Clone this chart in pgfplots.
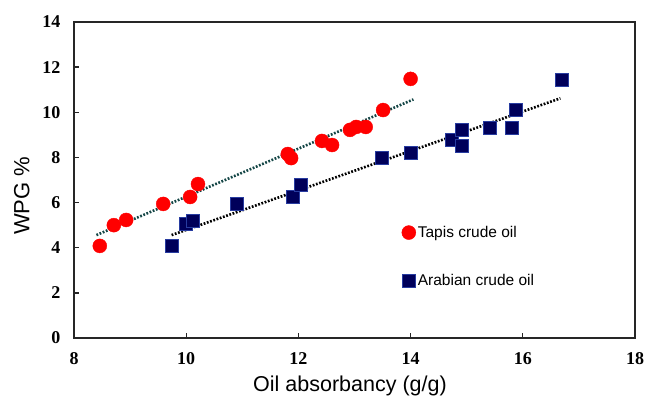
\documentclass[border=0pt]{standalone}
\usepackage{fontspec}
\setmainfont{Liberation Serif}
\setsansfont{Liberation Sans}
\usepackage{pgfplots}
\pgfplotsset{compat=1.18}
\definecolor{tapisred}{RGB}{255,0,0}
\definecolor{arabnavy}{RGB}{0,0,90}
\definecolor{arabedge}{RGB}{40,60,160}
\definecolor{tealdot}{RGB}{20,70,70}
\begin{document}
\begin{tikzpicture}
\path[use as bounding box] (0,0) rectangle (645pt,397pt);
\begin{axis}[
  at={(74pt,59pt)}, anchor=south west,
  scale only axis, width=561pt, height=316pt,
  xmin=8, xmax=18, ymin=0, ymax=14,
  xtick={8,10,...,18}, ytick={0,2,...,14},
  xtick pos=bottom, ytick pos=left,
  tick align=inside, major tick length=5pt,
  axis line style={line width=1.5pt, black!85},
  every tick/.style={line width=1.3pt, black!85},
  /pgf/number format/assume math mode=true,
  ticklabel style={font=\rmfamily\bfseries\fontsize{18}{18}\selectfont},
  yticklabel style={xshift=-10pt},
  xticklabel style={yshift=-11pt},
  xlabel={Oil absorbancy (g/g)},
  ylabel={WPG \%},
  xlabel style={font=\sffamily\fontsize{21.5}{21.5}\selectfont, at={(axis description cs:0.492,-0.168)}, anchor=base},
  ylabel style={font=\sffamily\fontsize{22}{22}\selectfont, at={(axis description cs:-0.093,0.45)}, anchor=center},
  legend style={at={(axis cs:13.84,5.05)}, anchor=north west, draw=none, fill=none,
    font=\sffamily\fontsize{15.5}{15.5}\selectfont, row sep=31.5pt, inner sep=0pt},
  legend cell align=left,
  legend image code/.code={\draw[#1] plot coordinates {(4pt,0pt)};},
]
\addplot[forget plot, line width=2.6pt, tealdot, dash pattern=on 1.8pt off 1.6pt]
  coordinates {(8.40,4.56) (14.05,10.57)};
\addplot[forget plot, line width=2.6pt, black, dash pattern=on 1.8pt off 1.6pt]
  coordinates {(9.74,4.56) (16.67,10.62)};
\addplot[only marks, mark=*, mark size=7pt, tapisred, mark options={draw=tapisred, fill=tapisred}]
  coordinates {
  (8.46,4.08) (8.71,5.00) (8.93,5.23) (9.59,5.94) (10.07,6.25) (10.21,6.82)
  (11.81,8.15) (11.87,7.97) (12.42,8.73) (12.60,8.55) (12.92,9.22) (13.03,9.35)
  (13.20,9.35) (13.51,10.10) (14.00,11.48)};
\addlegendentry{Tapis crude oil}
\addplot[only marks, mark=square*, mark size=6.5pt, mark options={draw=arabedge, fill=arabnavy, line width=0.6pt}]
  coordinates {
  (9.75,4.08) (10.00,5.05) (10.12,5.18) (10.90,5.94) (11.90,6.25) (12.05,6.80)
  (13.49,7.97) (14.00,8.20) (14.73,8.77) (14.91,9.21) (14.91,8.51) (15.42,9.33)
  (15.80,9.33) (15.88,10.10) (16.69,11.46)};
\addlegendentry{Arabian crude oil}
\end{axis}
\end{tikzpicture}
\end{document}
